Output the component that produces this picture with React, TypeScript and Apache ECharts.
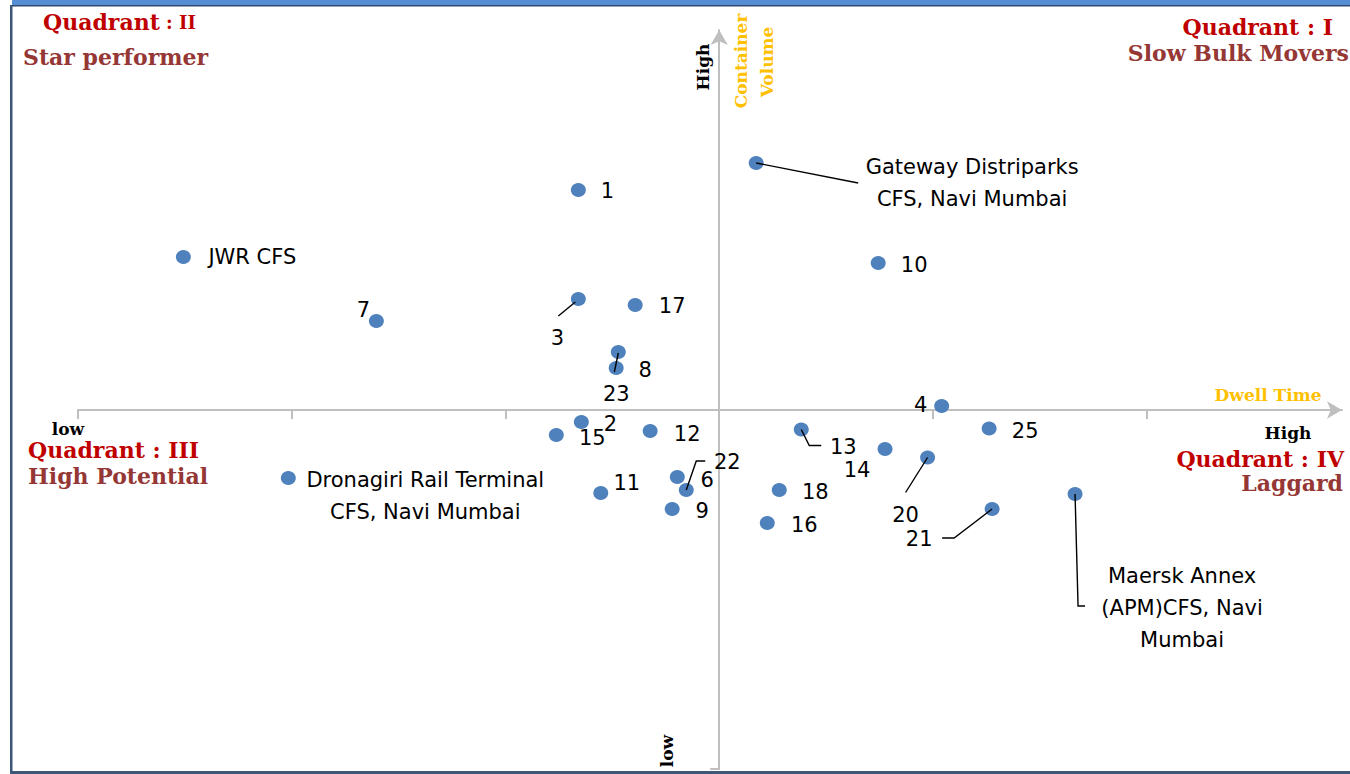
import React, { useEffect, useRef } from "react";
import * as echarts from "echarts";

// Terminal names / labels
const pointNames: string[] = [
  "Gateway Distriparks\nCFS, Navi Mumbai", "1", "JWR CFS", "10", "3", "17", "7", "23", "8", "4",
  "2", "15", "12", "13", "25", "14", "20", "Dronagiri Rail Terminal\nCFS, Navi Mumbai", "6", "22",
  "11", "18", "9", "16", "21", "Maersk Annex\n(APM)CFS, Navi\nMumbai",
];
// Dwell time (relative to the crossing point, arbitrary units)
const dwellTime: number[] = [
  0.173, -0.659, -2.507, 0.744, -0.659, -0.393, -1.604, -0.472, -0.482, 1.041,
  -0.645, -0.762, -0.323, 0.384, 1.263, 0.776, 0.975, -2.016, -0.196, -0.154,
  -0.554, 0.281, -0.22, 0.225, 1.277, 1.665,
];
// Container volume (relative to the crossing point, arbitrary units)
const containerVolume: number[] = [
  2.47, 2.2, 1.53, 1.47, 1.11, 1.05, 0.89, 0.58, 0.42, 0.04,
  -0.12, -0.25, -0.21, -0.195, -0.185, -0.39, -0.475, -0.68, -0.67, -0.8,
  -0.83, -0.8, -0.99, -1.13, -0.99, -0.84,
];
const xTickValues: number[] = [-3, -2, -1, 0, 1, 2];

// label placement (pixel offsets from point centre) — styling only
const labelOffsets: number[][] = [
  [216, 20], [29, 1], [69, 0], [36, 2], [-21, 39], [37, 1], [-13, -11], [-2, 42], [29, 2], [-21, -1],
  [29, 2], [36, 3], [37, 3], [42, 17], [36, 2], [-28, 21], [-22, 57], [137, 18], [30, 3], [41, -28],
  [26, -10], [36, 2], [30, 2], [37, 2], [-73, 30], [107, 114],
];
// leader lines (pixel offsets from point centre) — styling only
const leaderLines: Record<number, number[][]> = {
  0: [[0, 0], [102, 20]],
  4: [[-3, 3], [-20, 17]],
  7: [[0, 1], [-4, 20]],
  13: [[0, 0], [8, 16], [20, 16]],
  16: [[0, 0], [-22, 35]],
  19: [[0, 0], [10, -29], [19, -29]],
  24: [[0, 0], [-38, 29], [-50, 29]],
  25: [[0, 0], [3, 112], [10, 112]],
};

const X_MIN = -3, X_MAX = 2.914, Y_MIN = -3.59, Y_MAX = 3.8;
const serif = "DejaVu Serif";
const axisGray = "#bfbfbf";

export default function App() {
  const ref = useRef<HTMLDivElement>(null);
  useEffect(() => {
    if (!ref.current) return;
    const chart = echarts.init(ref.current, undefined, { renderer: "svg" });
    const scatterData = pointNames.map((n, i) => ({
      name: n,
      value: [dwellTime[i], containerVolume[i]],
      label: { offset: labelOffsets[i] },
    }));
    const txt = (text: string, x: number, y: number, opts: any = {}) => ({
      type: "text",
      x,
      y,
      rotation: opts.rotation || 0,
      z: 50,
      style: {
        text,
        fill: opts.fill || "#000",
        fontFamily: serif,
        fontWeight: "bold",
        fontSize: opts.fontSize || 17,
        lineHeight: opts.fontSize || 17,
        align: opts.align || "left",
        verticalAlign: "middle",
        rich: opts.rich,
      },
    });
    const qRich = {
      a: { fontFamily: serif, fontWeight: "bold", fontSize: 22, lineHeight: 22, fill: "#c00000" },
      b: { fontFamily: serif, fontWeight: "bold", fontSize: 18, lineHeight: 22, fill: "#c00000" },
    };
    chart.setOption({
      animation: false,
      backgroundColor: "#ffffff",
      grid: { left: 78, right: 8, top: 30, bottom: 5, containLabel: false },
      xAxis: {
        type: "value",
        min: X_MIN,
        max: X_MAX,
        interval: 1,
        axisLine: {
          onZero: true,
          symbol: ["none", "arrow"],
          symbolSize: [13, 15],
          lineStyle: { color: axisGray, width: 2 },
        },
        axisTick: { show: true, length: 9, customValues: xTickValues, lineStyle: { color: axisGray, width: 2 } },
        axisLabel: { show: false },
        splitLine: { show: false },
      },
      yAxis: {
        type: "value",
        min: Y_MIN,
        max: Y_MAX,
        axisLine: {
          onZero: true,
          symbol: ["none", "arrow"],
          symbolSize: [13, 15],
          lineStyle: { color: axisGray, width: 2 },
        },
        axisTick: { show: true, length: 9, customValues: [Y_MIN], lineStyle: { color: axisGray, width: 2 } },
        axisLabel: { show: false },
        splitLine: { show: false },
      },
      series: [
        {
          type: "scatter",
          data: scatterData,
          symbol: "circle",
          symbolSize: [15, 14],
          itemStyle: { color: "#4f81bd", opacity: 1 },
          z: 2,
          label: {
            show: true,
            position: "inside",
            formatter: (p: any) => p.name,
            align: "center",
            verticalAlign: "middle",
            color: "#000",
            fontFamily: "DejaVu Sans",
            fontSize: 21,
            lineHeight: 32,
          },
        },
        {
          type: "custom",
          z: 3,
          silent: true,
          encode: { x: 0, y: 1 },
          data: dwellTime.map((x, i) => [x, containerVolume[i]]),
          renderItem: (params: any, api: any) => {
            const pts = leaderLines[params.dataIndex];
            if (!pts) return { type: "group", children: [] };
            const c = api.coord([api.value(0), api.value(1)]);
            return {
              type: "polyline",
              shape: { points: pts.map((o) => [c[0] + o[0], c[1] + o[1]]) },
              style: { stroke: "#000", lineWidth: 1.4, fill: "none" },
            };
          },
        },
      ],
      graphic: [
        // frame
        { type: "rect", z: 60, shape: { x: 12, y: 0, width: 1338, height: 5 }, style: { fill: "#558ed5" } },
        { type: "rect", z: 60, shape: { x: 10, y: 5, width: 1340, height: 1.5 }, style: { fill: "#2e4a6e" } },
        { type: "rect", z: 60, shape: { x: 10, y: 5, width: 2.5, height: 769 }, style: { fill: "#3e5678" } },
        { type: "rect", z: 60, shape: { x: 10, y: 771, width: 1340, height: 3 }, style: { fill: "#3e5678" } },
        // quadrant titles
        txt("{a|Quadrant}{b| : II}", 43, 22, { rich: qRich }),
        txt("Star performer", 23, 57, { fontSize: 22, fill: "#953735" }),
        txt("Quadrant : I", 1333, 27, { fontSize: 22, fill: "#c00000", align: "right" }),
        txt("Slow Bulk Movers", 1349, 53, { fontSize: 22, fill: "#953735", align: "right" }),
        txt("Quadrant : III", 28, 450, { fontSize: 22, fill: "#c00000" }),
        txt("High Potential", 28, 476, { fontSize: 22, fill: "#953735" }),
        txt("Quadrant : IV", 1344, 459, { fontSize: 22, fill: "#c00000", align: "right" }),
        txt("Laggard", 1343, 483, { fontSize: 22, fill: "#953735", align: "right" }),
        // axis texts
        txt("low", 68, 429, { align: "center" }),
        txt("High", 1288, 433, { align: "center" }),
        txt("Dwell Time", 1268, 395, { align: "center", fill: "#ffc000" }),
        txt("High", 703, 67, { align: "center", rotation: Math.PI / 2 }),
        txt("Container", 741, 61, { align: "center", rotation: Math.PI / 2, fill: "#ffc000" }),
        txt("Volume", 767, 62, { align: "center", rotation: Math.PI / 2, fill: "#ffc000" }),
        txt("low", 667, 751, { align: "center", rotation: Math.PI / 2 }),
      ],
    });
    return () => chart.dispose();
  }, []);
  return (
    <div
      ref={ref}
      style={{ position: "absolute", left: 0, top: 0, width: 1350, height: 774, background: "#fff" }}
    />
  );
}
